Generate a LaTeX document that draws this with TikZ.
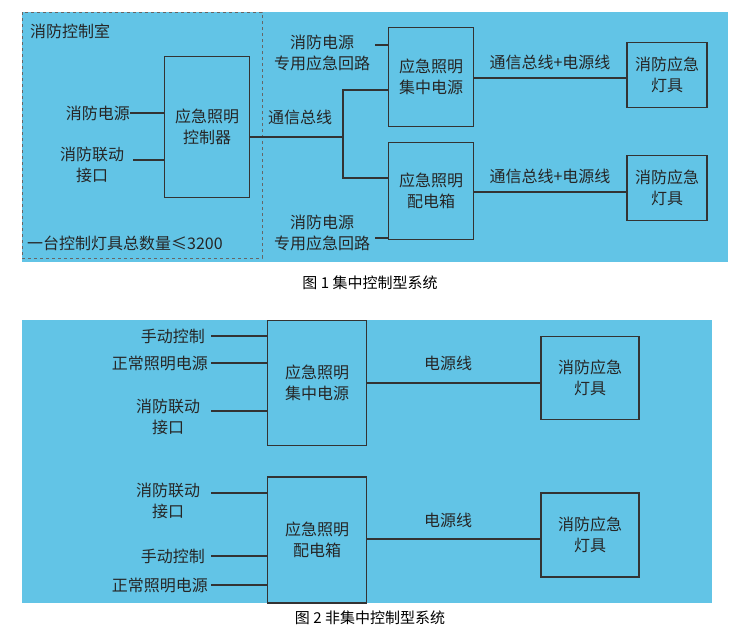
\documentclass[tikz,border=0pt]{standalone}
\usepackage{fontspec}
\setmainfont{Noto Sans CJK SC}
\usepackage{tikz}
\definecolor{panel}{RGB}{98,196,230}

\begin{document}
\begin{tikzpicture}[x=1pt,y=-1pt,
  lbl/.style={font=\fontsize{16}{21}\selectfont,align=center,inner sep=0pt,text=black!85},
  blk/.style={draw=black!80,line width=1.1pt,inner sep=0pt},
  wire/.style={draw=black!80,line width=1.1pt}]
\useasboundingbox (0,0) rectangle (748,635);
\fill[panel] (22,12) rectangle (728,262);
\fill[panel] (22,320) rectangle (712,603);
\draw[black!60,dashed] (22,12) rectangle (262,258);

% figure 1
\node[lbl,anchor=west] (room) at (30,31) {消防控制室};
\node[blk,minimum width=85pt,minimum height=141pt] (ctrl) at (207,127) {};
\node[lbl] at (ctrl) {应急照明\\控制器};
\node[lbl,anchor=east] (src) at (130,113) {消防电源};
\node[lbl] (link) at (92,165) {消防联动\\接口};
\coordinate (lk) at (133,160);
\draw[wire] (src.east) -- (src.east -| ctrl.west);
\draw[wire] (lk) -- (lk -| ctrl.west);
\node[blk,minimum width=85pt,minimum height=99pt] (cen) at (431,77) {};
\node[lbl] at (cen) {应急照明\\集中电源};
\node[blk,minimum width=85pt,minimum height=97pt] (box) at (431,191) {};
\node[lbl] at (box) {应急照明\\配电箱};
\coordinate (bus) at (343,137);
\node[lbl,anchor=south] (busl) at (300,125) {通信总线};
\draw[wire] (ctrl.east |- bus) -- (bus) -- (343,90) -- (343,90 -| cen.west);
\draw[wire] (bus) -- (343,178) -- (343,178 -| box.west);
\node[lbl] (sa) at (322,53) {消防电源\\专用应急回路};
\node[lbl] (sb) at (322,233) {消防电源\\专用应急回路};
\draw[wire] (375,45) -- (375,45 -| cen.west);
\draw[wire] (375,238) -- (375,238 -| box.west);
\node[blk,minimum width=80pt,minimum height=65pt] (lamp1) at (667,75) {};
\node[lbl] at (lamp1) {消防应急\\灯具};
\node[blk,minimum width=80pt,minimum height=65pt] (lamp2) at (667,188) {};
\node[lbl] at (lamp2) {消防应急\\灯具};
\draw[wire] (cen.east |- 0,78) -- (lamp1.west |- 0,78);
\draw[wire] (box.east |- 0,192) -- (lamp2.west |- 0,192);
\node[lbl] (bl1) at (550,62) {通信总线+电源线};
\node[lbl] (bl2) at (550,176) {通信总线+电源线};
\node[lbl,anchor=west] (cnt) at (27,243) {一台控制灯具总数量≤3200};
\node[font=\fontsize{15}{18}\selectfont] (cap1) at (370,283) {图 1 集中控制型系统};

% figure 2
\node[blk,minimum width=99pt,minimum height=125pt] (cen2) at (317,383) {};
\node[lbl] at (cen2) {应急照明\\集中电源};
\node[blk,minimum width=99pt,minimum height=126pt] (box2) at (317,540) {};
\node[lbl] at (box2) {应急照明\\配电箱};
\node[blk,minimum width=98pt,minimum height=83pt] (lamp3) at (590,378) {};
\node[lbl] at (lamp3) {消防应急\\灯具};
\node[blk,minimum width=98pt,minimum height=84pt] (lamp4) at (590,535) {};
\node[lbl] at (lamp4) {消防应急\\灯具};
\draw[wire] (cen2.east |- 0,383) -- (lamp3.west |- 0,383);
\draw[wire] (box2.east |- 0,539) -- (lamp4.west |- 0,539);
\node[lbl] (pw1) at (448,363) {电源线};
\node[lbl] (pw2) at (448,520) {电源线};
\node[lbl,anchor=east] (man1) at (205,336) {手动控制};
\node[lbl,anchor=east] (nor1) at (208,363) {正常照明电源};
\node[lbl] (lk1) at (168,417) {消防联动\\接口};
\node[lbl] (lk2) at (168,501) {消防联动\\接口};
\node[lbl,anchor=east] (man2) at (205,556) {手动控制};
\node[lbl,anchor=east] (nor2) at (208,585) {正常照明电源};
\draw[wire] (211,336) -- (211,336 -| cen2.west);
\draw[wire] (211,363) -- (211,363 -| cen2.west);
\draw[wire] (211,411) -- (211,411 -| cen2.west);
\draw[wire] (211,493) -- (211,493 -| box2.west);
\draw[wire] (211,556) -- (211,556 -| box2.west);
\draw[wire] (211,585) -- (211,585 -| box2.west);
\node[font=\fontsize{15}{18}\selectfont] (cap2) at (370,618) {图 2 非集中控制型系统};
\end{tikzpicture}
\end{document}
